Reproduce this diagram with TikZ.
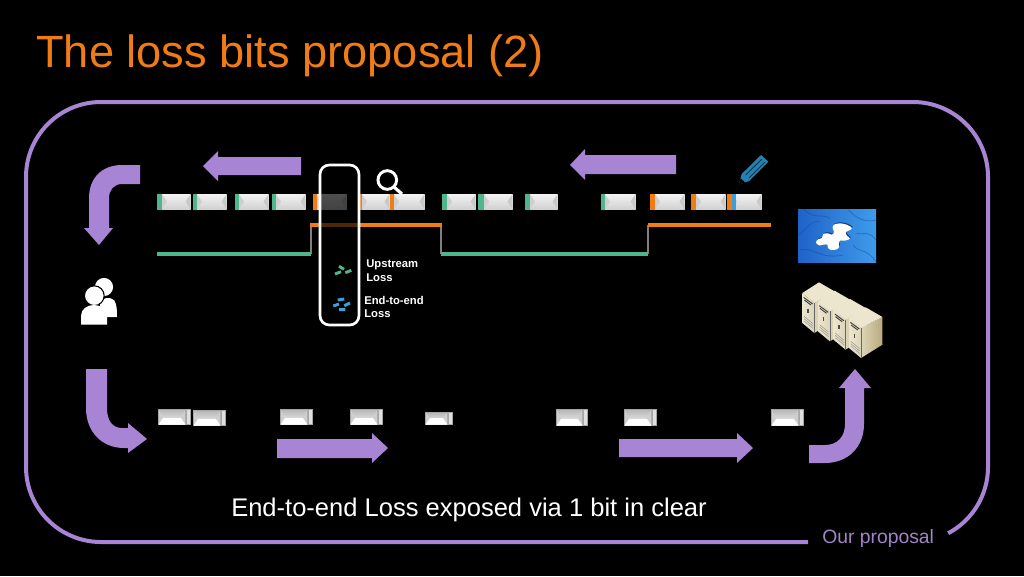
\documentclass[tikz,border=0pt]{standalone}
\usepackage{fontspec}
\setmainfont{Liberation Sans}
\usetikzlibrary{positioning}
\definecolor{slidepurple}{HTML}{A884D4}
\definecolor{slideorange}{HTML}{F07C16}
\definecolor{lossgreen}{HTML}{4FB58C}
\definecolor{lossblue}{HTML}{3E9FD6}
\definecolor{servertop}{HTML}{EDE6CE}
\definecolor{serverfront}{HTML}{DDD5B8}
\definecolor{serverside}{HTML}{B9A97C}
\definecolor{pencilblue}{HTML}{2382B4}
\definecolor{puzzleleft}{HTML}{1F62C8}
\definecolor{puzzleright}{HTML}{3E9CEB}
\tikzset{
    flowarrow/.style={fill=slidepurple,draw=none},
    lossline/.style={line width=3pt},
    stepline/.style={draw=gray,line width=0.8pt},
    losslabel/.style={text=white,font=\bfseries\fontsize{8.45pt}{10.4pt}\selectfont,align=left,anchor=west,inner sep=0pt},
    lossdash/.style={line width=2.2pt}
}
% one packet seen from above: bevel body between x1,x2 and y1,y2
\newcommand{\topbody}[4]{
    \fill[gray!70] (#1,#3) rectangle (#2,#4);
    \shade[top color=white!95!black,bottom color=white!82!black] (#1,#3+0.7) rectangle (#2-0.7,#4-0.7);
    \fill[gray!38] (#1,#3+1) -- (#1+5,#3+8) -- (#1,#4-1) -- cycle;
    \fill[gray!42] (#2-0.7,#3+1) -- (#2-5.5,#3+8) -- (#2-0.7,#4-1) -- cycle;
}
% a packet on the way back, with its pale bit on the right
\newcommand{\lowpacket}[4]{
    \fill[gray!70] (#1,#3) rectangle (#2+5,#4);
    \shade[top color=gray!55,bottom color=gray!10] (#1+1,#3+1) rectangle (#2-1,#4-1);
    \fill[gray!38] (#1+1,#3+1) -- (#1+5,#4-7) -- (#1+1,#4-1) -- cycle;
    \fill[gray!38] (#2-1,#3+1) -- (#2-5,#4-7) -- (#2-1,#4-1) -- cycle;
    \fill[white] (#1+5,#4-7) -- (#2-5,#4-7) -- (#2-1,#4-1) -- (#1+1,#4-1) -- cycle;
    \fill[white!88!black] (#2+0.7,#3+1) rectangle (#2+4,#4-1);
}
% jigsaw piece, on the puzzle's finer grid
\newcommand{\puzzlepiece}[1]{
    \fill[#1] plot[smooth cycle,tension=0.6] coordinates {(78,128) (84,118) (96,114) (100,102) (114,100) (126,104) (132,96) (128,84) (132,74) (150,70) (170,74) (186,84) (176,92) (168,96) (170,106) (180,116) (164,122) (150,122) (146,130) (148,140) (140,148) (124,150) (114,144) (112,134) (100,134) (88,136)};
}
\begin{document}
\begin{tikzpicture}[x=0.75pt,y=-0.75pt]
    \useasboundingbox[fill=black] (0,0) rectangle (1024,576);
    \node[text=slideorange,font=\fontsize{33.9pt}{40pt}\selectfont,anchor=base west,inner sep=0pt] (title) at (36,67) {The loss bits proposal (2)};
    % outer frame, open where the footer sits
    \draw[slidepurple,line width=3pt] (808,542) -- (101,542) arc[start angle=270,end angle=180,radius=56.25pt] -- (26,177) arc[start angle=180,end angle=90,radius=56.25pt] -- (913,102) arc[start angle=90,end angle=0,radius=56.25pt] -- (988,467) arc[start angle=0,end angle=-62,radius=56.25pt];
    \node[text=slidepurple!85!gray,font=\fontsize{14.5pt}{18pt}\selectfont,anchor=base west,inner sep=0pt] (footer) at (822,543) {Our proposal};
    \node[text=white,font=\fontsize{19.15pt}{22pt}\selectfont,anchor=base west,inner sep=0pt] (caption) at (231,516.5) {End-to-end Loss exposed via 1 bit in clear};

    % straight arrows
    \fill[flowarrow] (301,157) -- (218,157) -- (218,151) -- (203,166) -- (218,181) -- (218,175) -- (301,175) -- cycle;
    \fill[flowarrow] (676,155) -- (585,155) -- (585,149) -- (570,165) -- (585,180) -- (585,174) -- (676,174) -- cycle;
    \fill[flowarrow] (277,439) -- (372,439) -- (372,433) -- (388,448) -- (372,463) -- (372,458) -- (277,458) -- cycle;
    \fill[flowarrow] (619,439) -- (737,439) -- (737,433) -- (753,448) -- (737,463) -- (737,457) -- (619,457) -- cycle;
    % bent arrows
    \fill[flowarrow] (140,165) -- (122,165) .. controls (102,165) and (89,178) .. (89,198) -- (89,228) -- (84,228) -- (99,245) -- (113,228) -- (109,228) -- (109,198) .. controls (109,190) and (114,184) .. (122,184) -- (140,184) -- cycle;
    \fill[flowarrow] (86,369) -- (86,408) .. controls (86,432) and (102,448) .. (124,448) -- (128,448) -- (128,453) -- (147,439) -- (128,423) -- (128,428) -- (122,428) .. controls (112,428) and (107,420) .. (107,408) -- (107,369) -- cycle;
    \fill[flowarrow] (809,445) -- (825,445) .. controls (838,445) and (845,436) .. (845,424) -- (845,388) -- (839,388) -- (855,369) -- (871,388) -- (864,388) -- (864,424) .. controls (864,447) and (848,463) .. (825,463) -- (809,463) -- cycle;

    % packets on the way out
    \foreach \xa/\xb/\xc/\col in {157/162/191/lossgreen,193/197/227/lossgreen,235/239/269/lossgreen,272/276/306/lossgreen,313/317/347/slideorange,358/362/390/slideorange,390/394/425/slideorange,442/447/476/lossgreen,478/484/513/lossgreen,525/530/558/lossgreen,601/605/636/lossgreen,650/655/685/slideorange,691/696/726/slideorange,727/732/762/slideorange}{
        \topbody{\xb}{\xc}{193.5}{210}
        \fill[\col] (\xa,193.5) rectangle (\xb,210);
    }
    \fill[lossblue] (732,193.5) rectangle (736,210);

    % packets on the way back
    \foreach \xa/\xb/\ya/\yb in {158/186/409/425,193/221/410/426,280/308/409/425,350/378/409/425,425/448/412/425,556/583/409/426,624/652/409/426,771/799/409/426}{
        \lowpacket{\xa}{\xb}{\ya}{\yb}
    }

    % loss signal
    \draw[stepline] (311,254) -- (311,224) (441,224) -- (441,254) (648,254) -- (648,225);
    \draw[lossline,lossgreen] (157,254) -- (311,254);
    \draw[lossline,slideorange] (310,224.5) -- (442,224.5);
    \draw[lossline,lossgreen] (441,254) -- (648,254);
    \draw[lossline,slideorange] (648,225) -- (771,225);

    % observer window
    \draw[white,line width=2pt,rounded corners=7pt,fill=black,fill opacity=0.68,draw opacity=1] (320,165) rectangle (359,325);
    \draw[lossdash,lossgreen] (335,274) -- (341,271.7) (339,266.3) -- (344,269.3) (345.3,272.7) -- (351.3,270.3);
    \draw[lossdash,lossblue] (337.7,300) -- (344.3,299) (333.3,306) -- (339,304) (344.3,305.7) -- (350,303) (339,309.7) -- (345.3,309.7);
    \node[losslabel] (upstream) at (366,271) {Upstream\\Loss};
    \node[losslabel] (endtoend) at (364,307) {End-to-end\\Loss};

    % magnifier
    \draw[white,line width=2.2pt] (387.3,180) circle[radius=7pt];
    \draw[white,line width=2.4pt] (394,187) -- (402,194);

    % users
    \fill[white] (104,287) circle[radius=6.8pt];
    \fill[white] (100,317) -- (100,304) .. controls (100,298) and (110,296) .. (114,300) .. controls (116,303) and (117,306) .. (117,317) -- cycle;
    \fill[white,draw=black,line width=0.8pt] (94.3,295.7) circle[radius=7.4pt];
    \fill[white] (81,324.5) -- (81,316) .. controls (81,309) and (87,305) .. (94,305) .. controls (101,305) and (107,309) .. (107,316) -- (107,324.5) -- cycle;

    % pencil, traced on a finer grid
    \begin{scope}[shift={(725,150)},x=0.25pt,y=-0.25pt]
        \fill[pencilblue,line join=round] (42,103) -- (50,72) -- (108,15) -- (130,35) -- (72,93) -- cycle;
        \draw[black!60!pencilblue,line width=0.7pt] (62,75) -- (110,28) (72,84) -- (119,37);
        \fill[black] (42,103) -- (47,85) -- (60,97) -- cycle;
    \end{scope}

    % puzzle
    \begin{scope}[shift={(790,200)},x=0.25pt,y=-0.25pt]
        \shade[left color=puzzleleft,right color=puzzleright] (24,27) rectangle (258,188);
        \draw[puzzleleft!70!black,opacity=0.45,line width=0.6pt] (24,105) .. controls (50,90) and (60,60) .. (90,65) (190,135) .. controls (205,160) and (225,140) .. (258,185) (30,150) .. controls (70,140) and (90,180) .. (160,165) (175,30) .. controls (195,50) and (220,70) .. (258,60) (40,27) .. controls (70,60) and (100,40) .. (120,55) (200,100) .. controls (225,105) and (235,90) .. (258,120);
        \begin{scope}[shift={(2,-3)}]
            \puzzlepiece{puzzleleft!55!black}
        \end{scope}
        \puzzlepiece{white}
    \end{scope}

    % servers
    \begin{scope}[shift={(795,278)},x=0.25pt,y=-0.25pt]
        \foreach \i in {0,1,2,3}{
            \begin{scope}[shift={(46.7*\i,25*\i)}]
                \shade[left color=serverfront,right color=serverside] (58,75) -- (122,42) -- (122,125) -- (58,165) -- cycle;
                \fill[servertop] (22,45) -- (72,13) -- (122,42) -- (58,75) -- cycle;
                \shade[left color=servertop,right color=serverfront] (22,45) -- (58,75) -- (58,165) -- (22,135) -- cycle;
                \draw[black!75,line width=0.7pt] (26,58) -- (53,78) (28,66) -- (48,81);
                \draw[black!40,line width=0.4pt] (27,115) -- (54,137) (27,122) -- (54,144) (27,129) -- (54,151);
                \fill[black!70] (37,92) rectangle (41,104);
                \draw[black!60,line width=0.5pt] (58,75) -- (58,165);
            \end{scope}
        }
    \end{scope}
\end{tikzpicture}
\end{document}
